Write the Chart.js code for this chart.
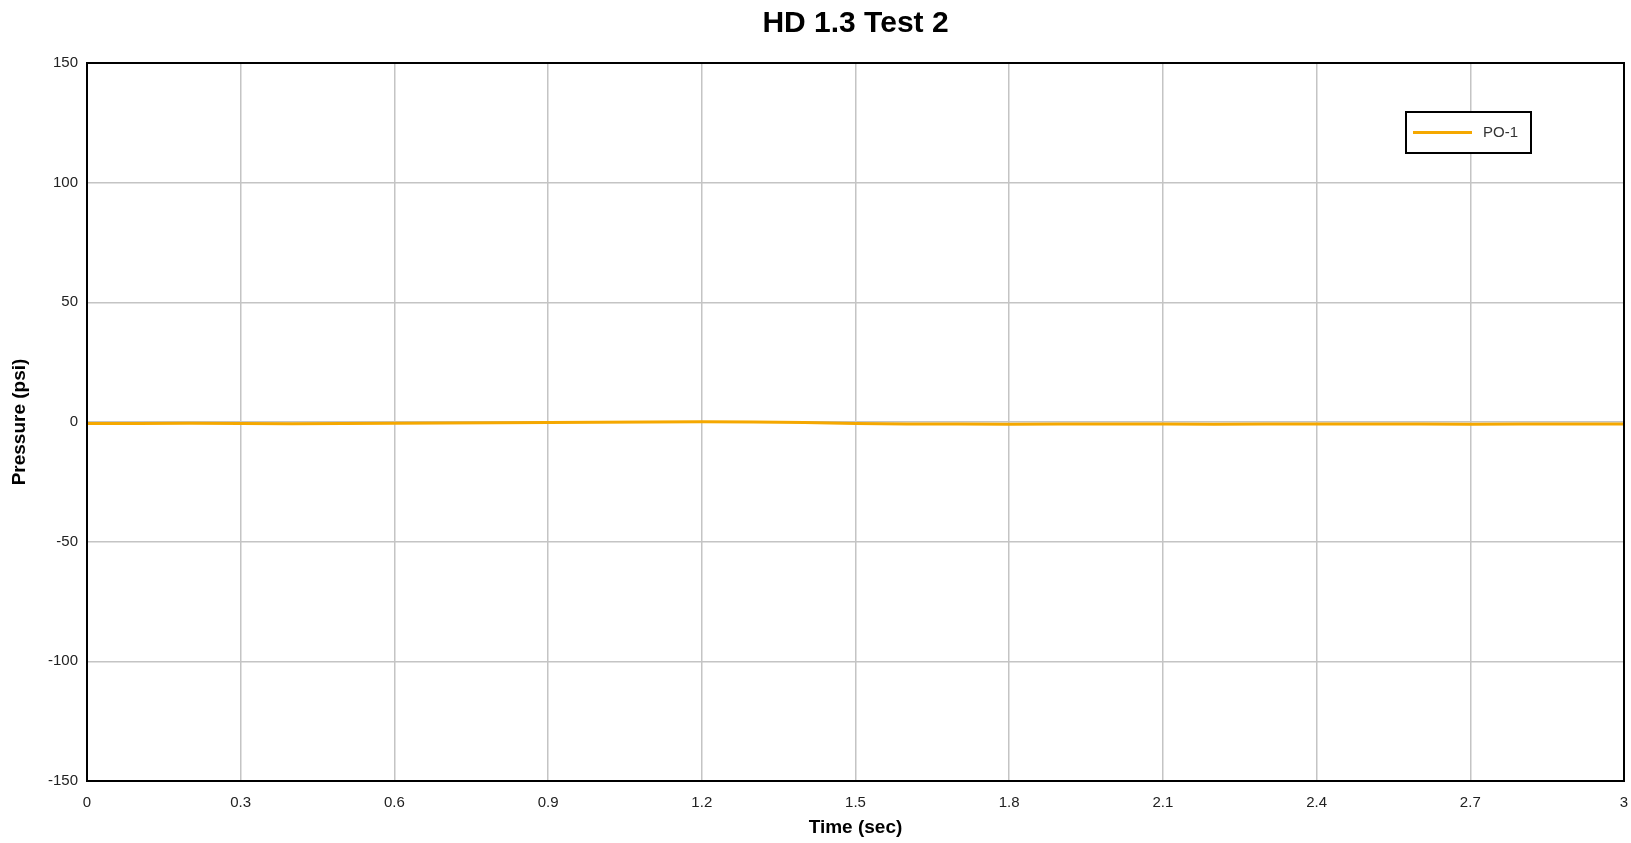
<!DOCTYPE html>
<html>
<head>
<meta charset="utf-8">
<title>HD 1.3 Test 2</title>
<script src="https://cdn.jsdelivr.net/npm/chart.js@4/dist/chart.umd.min.js"></script>
<style>
    body { margin: 0; background: #fff; }
    #wrap { width: 1631px; height: 843px; }
</style>
</head>
<body>
<div id="wrap"><canvas id="pressureChart" width="1631" height="843"></canvas></div>
<script>
// time (sec) and pressure (psi)
const timeSec = [0, 0.1, 0.2, 0.3, 0.4, 0.5, 0.6, 0.7, 0.8, 0.9, 1.0, 1.1, 1.2, 1.3, 1.4, 1.5,
    1.6, 1.7, 1.8, 1.9, 2.0, 2.1, 2.2, 2.3, 2.4, 2.5, 2.6, 2.7, 2.8, 2.9, 3.0];
const po1 = [-0.6, -0.6, -0.5, -0.6, -0.7, -0.6, -0.5, -0.4, -0.3, -0.2, -0.1, 0, 0.1, 0, -0.2, -0.6,
    -0.8, -0.8, -0.9, -0.8, -0.8, -0.8, -0.9, -0.8, -0.8, -0.8, -0.8, -0.9, -0.8, -0.8, -0.8];
const xTicks = [0, 0.3, 0.6, 0.9, 1.2, 1.5, 1.8, 2.1, 2.4, 2.7, 3];
const yTicks = [-150, -100, -50, 0, 50, 100, 150];

const chartTitle = 'HD 1.3 Test 2';
const lineColor = '#f5a800';
const fontFamily = '"Liberation Sans", Arial, sans-serif';

// title centred over the plot area, black frame round it
const framePlugin = {
    id: 'frame',
    afterDraw(chart) {
        const { ctx, chartArea: a } = chart;
        ctx.save();
        ctx.strokeStyle = '#000';
        ctx.lineWidth = 2;
        ctx.strokeRect(a.left, a.top, a.right - a.left, a.bottom - a.top);
        ctx.fillStyle = '#000';
        ctx.font = 'bold 30px ' + fontFamily;
        ctx.textAlign = 'center';
        ctx.textBaseline = 'middle';
        ctx.fillText(chartTitle, (a.left + a.right) / 2, 24);
        ctx.restore();
    }
};

// boxed legend inside the top right corner
const boxLegend = {
    id: 'boxLegend',
    afterDraw(chart) {
        const { ctx, chartArea: a } = chart;
        const x = a.right - 218, y = a.top + 49, w = 125, h = 41;
        ctx.save();
        ctx.fillStyle = '#fff';
        ctx.fillRect(x, y, w, h);
        ctx.strokeStyle = '#000';
        ctx.lineWidth = 2;
        ctx.strokeRect(x, y, w, h);
        chart.data.datasets.forEach((ds, i) => {
            const cy = y + h / 2 + i * 20;
            ctx.strokeStyle = ds.borderColor;
            ctx.lineWidth = 3;
            ctx.beginPath();
            ctx.moveTo(x + 7, cy);
            ctx.lineTo(x + 66, cy);
            ctx.stroke();
            ctx.fillStyle = '#333';
            ctx.font = '15px ' + fontFamily;
            ctx.textBaseline = 'middle';
            ctx.fillText(ds.label, x + 77, cy);
        });
        ctx.restore();
    }
};

const ctx = document.getElementById('pressureChart').getContext('2d');
new Chart(ctx, {
    type: 'line',
    data: {
        datasets: [{
            label: 'PO-1',
            data: timeSec.map((t, i) => ({ x: t, y: po1[i] })),
            borderColor: lineColor,
            backgroundColor: lineColor,
            borderWidth: 3,
            pointRadius: 0,
            tension: 0,
            fill: false
        }]
    },
    options: {
        responsive: false,
        animation: false,
        layout: { padding: { top: 63, right: 7, bottom: 0, left: 0 } },
        plugins: {
            legend: { display: false },
            tooltip: { enabled: false },
            title: { display: false }
        },
        scales: {
            x: {
                type: 'linear',
                min: 0,
                max: 3,
                afterBuildTicks: axis => { axis.ticks = xTicks.map(v => ({ value: v })); },
                afterFit: axis => {
                    axis.height = 62;
                    axis.paddingLeft = 0;
                    axis.paddingRight = 0;
                },
                grid: { color: '#c4c4c4', lineWidth: 1.5, drawTicks: false },
                border: { display: false },
                ticks: {
                    color: '#222',
                    padding: 13,
                    maxRotation: 0,
                    autoSkip: false,
                    font: { family: fontFamily, size: 15 },
                    callback: v => String(v)
                },
                title: {
                    display: true,
                    text: 'Time (sec)',
                    color: '#000',
                    font: { family: fontFamily, size: 19, weight: 'bold' },
                    padding: { top: 0, bottom: 4 }
                }
            },
            y: {
                min: -150,
                max: 150,
                afterBuildTicks: axis => { axis.ticks = yTicks.map(v => ({ value: v })); },
                afterFit: axis => {
                    axis.width = 87;
                    axis.paddingTop = 0;
                    axis.paddingBottom = 0;
                },
                grid: { color: '#c4c4c4', lineWidth: 1.5, drawTicks: false },
                border: { display: false },
                ticks: {
                    color: '#222',
                    padding: 9,
                    autoSkip: false,
                    font: { family: fontFamily, size: 15 }
                },
                title: {
                    display: true,
                    text: 'Pressure (psi)',
                    color: '#000',
                    font: { family: fontFamily, size: 19, weight: 'bold' },
                    padding: { top: 8, bottom: 0 }
                }
            }
        }
    },
    plugins: [framePlugin, boxLegend]
});
</script>
</body>
</html>
